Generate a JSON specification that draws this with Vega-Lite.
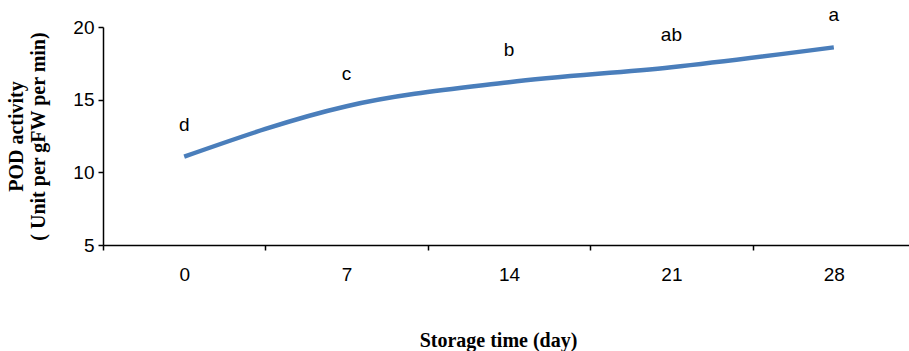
{
  "$schema": "https://vega.github.io/schema/vega-lite/v6.json",
  "width": 806,
  "height": 218,
  "autosize": "none",
  "padding": {"left": 103, "top": 27, "right": 0, "bottom": 106},
  "background": "white",
  "config": {"view": {"stroke": null}},
  "data": {
    "values": [
      {"day": "0", "pod": 11.08, "letter": "d"},
      {"day": "7", "pod": 14.55, "letter": "c"},
      {"day": "14", "pod": 16.2, "letter": "b"},
      {"day": "21", "pod": 17.23, "letter": "ab"},
      {"day": "28", "pod": 18.6, "letter": "a"}
    ]
  },
  "encoding": {
    "x": {
      "field": "day",
      "type": "ordinal",
      "sort": null,
      "bandPosition": 0.5,
      "scale": {"type": "band", "paddingInner": 0, "paddingOuter": 0, "range": [0, 812]},
      "axis": {
        "title": "Storage time (day)",
        "titleFont": "Liberation Serif",
        "titleFontWeight": "bold",
        "titleFontSize": 20,
        "titleColor": "black",
        "titlePadding": 46,
        "titleX": 395,
        "titleAnchor": "middle",
        "labelAngle": 0,
        "labelFont": "Liberation Sans",
        "labelFontSize": 19,
        "labelColor": "black",
        "labelPadding": 15,
        "tickBand": "extent",
        "tickSize": 5,
        "tickColor": "black",
        "tickWidth": 1.5,
        "domainColor": "black",
        "domainWidth": 1.5,
        "grid": false
      }
    },
    "y": {
      "field": "pod",
      "type": "quantitative",
      "scale": {"domain": [5, 20], "nice": false, "zero": false},
      "axis": {
        "title": ["POD activity", "( Unit per gFW per min)"],
        "titleFont": "Liberation Serif",
        "titleFontWeight": "bold",
        "titleFontSize": 20,
        "titleLineHeight": 22,
        "titleColor": "black",
        "titlePadding": 24,
        "values": [5, 10, 15, 20],
        "labelFont": "Liberation Sans",
        "labelFontSize": 19,
        "labelColor": "black",
        "labelPadding": 4,
        "tickSize": 5,
        "tickColor": "black",
        "tickWidth": 1.5,
        "domainColor": "black",
        "domainWidth": 1.5,
        "grid": false
      }
    }
  },
  "layer": [
    {
      "mark": {"type": "line", "interpolate": "monotone", "color": "#4A7EBB", "strokeWidth": 4.5, "strokeCap": "butt"}
    },
    {
      "mark": {"type": "text", "dy": -32, "font": "Liberation Sans", "fontSize": 19, "color": "black", "baseline": "middle"},
      "encoding": {"text": {"field": "letter"}}
    }
  ]
}
